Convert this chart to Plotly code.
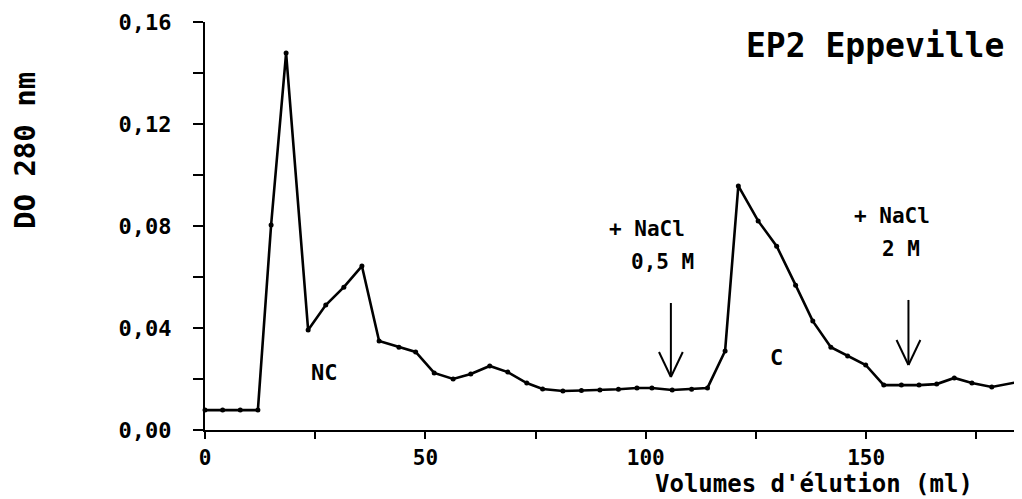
import plotly.graph_objects as go

# Elution volumes (ml) and optical density at 280 nm
volume_ml = [0, 4, 8, 12, 15, 18.4, 23.4, 27.4, 31.5, 35.6, 39.5, 44, 47.8, 52,
             56.3, 60.3, 64.6, 68.7, 73, 76.6, 81.2, 85.4, 89.6, 93.8, 98, 101.4,
             106, 110.4, 114, 118, 121, 125.5, 129.7, 134, 137.9, 142, 145.8,
             149.9, 154, 158, 162, 166, 170, 174, 178.5, 184.4]
do_280 = [0.0078, 0.0078, 0.0078, 0.0078, 0.0804, 0.1478, 0.0392, 0.049, 0.056,
          0.0643, 0.0349, 0.0325, 0.0306, 0.0224, 0.020, 0.022, 0.0251, 0.0227,
          0.0184, 0.0161, 0.0153, 0.0155, 0.0157, 0.016, 0.0165, 0.0165, 0.0157,
          0.016, 0.0165, 0.031, 0.0957, 0.082, 0.0721, 0.0568, 0.0427, 0.0325,
          0.029, 0.0255, 0.0176, 0.0176, 0.0176, 0.018, 0.0204, 0.0184, 0.0169,
          0.0188]

# NaCl addition arrows
arrow_x = [105.7, 159.6]
arrow_top = [0.0498, 0.051]
arrow_tip = [0.0208, 0.0255]
arrow_labels = [("+ NaCl", "0,5 M"), ("+ NaCl", "2 M")]

# Axis ticks
y_tickvals = [0.0, 0.04, 0.08, 0.12, 0.16]
y_ticktext = ["0,00", "0,04", "0,08", "0,12", "0,16"]
x_tickvals = [0, 50, 100, 150]
x_ticktext = ["0", "50", "100", "150"]

FONT = "DejaVu Sans Mono"
OFF = 8  # default page body margin
W, H = 1022 - OFF, 499 - OFF
L, T = 205 - OFF, 22 - OFF
R = 6
B = H - (430 - OFF)
PW, PH = W - L - R, H - T - B


def px(xs):
    return (xs - OFF - L) / PW


def py(ys):
    return (H - B - (ys - OFF)) / PH


fig = go.Figure()
fig.add_trace(go.Scatter(
    x=volume_ml, y=do_280, mode="lines+markers",
    line=dict(color="black", width=2.6),
    marker=dict(color="black", size=5),
    showlegend=False, hoverinfo="skip", cliponaxis=False,
))

# arrows (shaft + open V head)
for ax, top, tip in zip(arrow_x, arrow_top, arrow_tip):
    fig.add_shape(type="line", x0=ax, x1=ax, y0=top, y1=tip,
                  line=dict(color="black", width=2))
    fig.add_shape(type="line", x0=ax - 2.7, x1=ax, y0=tip + 0.0098, y1=tip,
                  line=dict(color="black", width=2))
    fig.add_shape(type="line", x0=ax + 2.7, x1=ax, y0=tip + 0.0098, y1=tip,
                  line=dict(color="black", width=2))

tfont = dict(family=FONT, size=21, color="black", weight="bold")
label_pos = [((100.2, 0.0788), (103.9, 0.0659)), ((155.8, 0.0839), (158.0, 0.071))]
for (l1, l2), (p1, p2) in zip(arrow_labels, label_pos):
    fig.add_annotation(x=p1[0], y=p1[1], text=l1, showarrow=False, font=tfont,
                       xanchor="center", yanchor="middle")
    fig.add_annotation(x=p2[0], y=p2[1], text=l2, showarrow=False, font=tfont,
                       xanchor="center", yanchor="middle")

fig.add_annotation(x=27.2, y=0.0224, text="NC", showarrow=False, font=dict(tfont, size=22),
                   xanchor="center", yanchor="middle")
fig.add_annotation(x=129.7, y=0.0286, text="C", showarrow=False, font=dict(tfont, size=22),
                   xanchor="center", yanchor="middle")

# title
fig.add_annotation(xref="paper", yref="paper", x=px(875), y=py(45),
                   text="EP2 Eppeville", showarrow=False, xanchor="center", yanchor="middle",
                   font=dict(family=FONT, size=33, color="black", weight="bold"))
# y axis title
fig.add_annotation(xref="paper", yref="paper", x=px(25), y=py(151),
                   text="DO 280 nm", textangle=-90, showarrow=False,
                   xanchor="center", yanchor="middle",
                   font=dict(family=FONT, size=29, color="black", weight="bold"))
# x axis title
fig.add_annotation(xref="paper", yref="paper", x=px(814), y=py(484),
                   text="Volumes d'élution (ml)", showarrow=False,
                   xanchor="center", yanchor="middle", borderpad=0,
                   font=dict(family=FONT, size=24, color="black", weight="bold"))

# axis cross extensions at origin
fig.add_shape(type="line", xref="paper", yref="paper", x0=-10 / PW, x1=0, y0=0, y1=0,
              line=dict(color="black", width=2))
fig.add_shape(type="line", xref="paper", yref="paper", x0=0, x1=0, y0=-9 / PH, y1=0,
              line=dict(color="black", width=2))

fig.update_layout(
    width=W, height=H,
    margin=dict(l=L, r=R, t=T, b=B, autoexpand=False),
    plot_bgcolor="white", paper_bgcolor="white",
    xaxis=dict(range=[0, 184], showgrid=False, zeroline=False, automargin=False,
               showline=True, linecolor="black", linewidth=2,
               ticks="outside", ticklen=7, tickwidth=2, tickcolor="black",
               tickvals=x_tickvals, ticktext=x_ticktext,
               minor=dict(tickvals=[25, 75, 125, 175], ticks="outside", ticklen=7,
                          tickwidth=2, tickcolor="black"),
               ticklabelstandoff=1,
               tickfont=dict(family=FONT, size=21, color="black", weight="bold")),
    yaxis=dict(range=[0, 0.16], showgrid=False, zeroline=False, automargin=False,
               showline=True, linecolor="black", linewidth=2,
               ticks="outside", ticklen=10, tickwidth=2, tickcolor="black",
               tickvals=y_tickvals, ticktext=y_ticktext,
               minor=dict(tickvals=[0.02, 0.06, 0.10, 0.14], ticks="outside", ticklen=10,
                          tickwidth=2, tickcolor="black"),
               ticklabelstandoff=17,
               tickfont=dict(family=FONT, size=22, color="black", weight="bold")),
)

fig.write_html("out.html")
